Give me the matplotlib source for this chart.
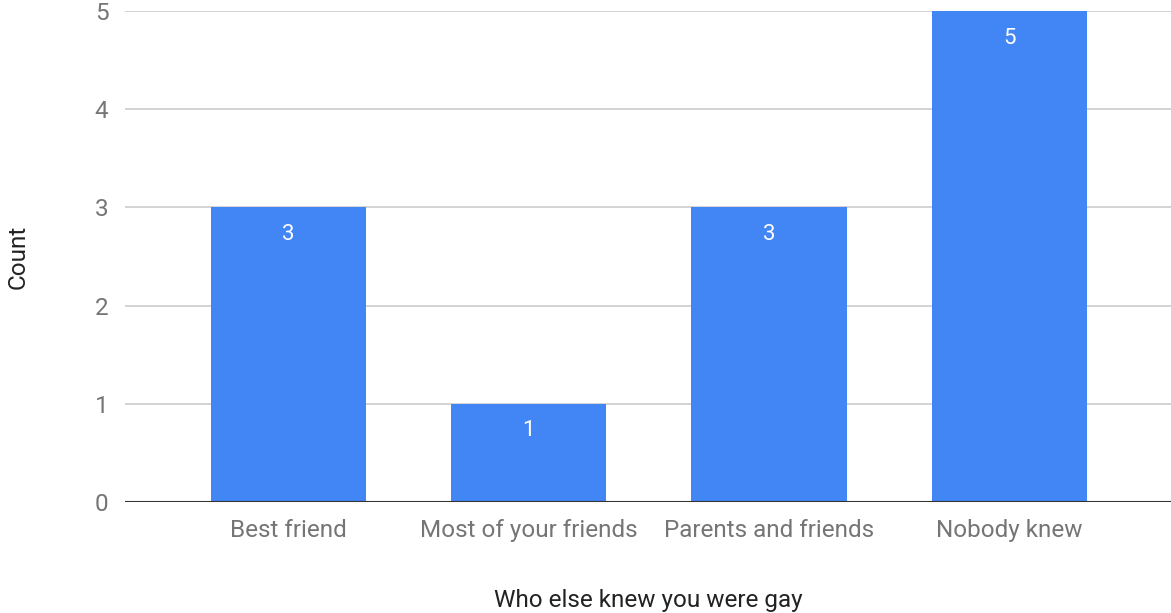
import matplotlib
matplotlib.use("Agg")
import matplotlib.pyplot as plt

categories = ["Best friend", "Most of your friends", "Parents and friends", "Nobody knew"]
counts = [3, 1, 3, 5]
yticks = [0, 1, 2, 3, 4, 5]

plt.rcParams['font.family'] = ['Roboto', 'DejaVu Sans']

fig = plt.figure(figsize=(11.71, 6.13), dpi=100)
ax = fig.add_axes([125/1171, 111/613, 1046/1171, 491/613])

x = list(range(len(categories)))
bars = ax.bar(x, counts, width=0.646, color="#4285F4", zorder=3)
for b, v in zip(bars, counts):
    ax.annotate(str(v), (b.get_x() + b.get_width()/2, v), xytext=(0, -19.5),
                textcoords="offset points", ha="center", va="center",
                color="white", fontsize=16, zorder=4)

ax.set_xlim(-0.681, 3.673)
ax.set_ylim(0, 5)
ax.set_yticks(yticks)
ax.set_xticks(x)
ax.set_xticklabels(categories)
ax.grid(axis="y", color="#cccccc", linewidth=1.2, zorder=0)
ax.axhline(0, color="#333333", linewidth=1.5, zorder=5)
for s in ax.spines.values():
    s.set_visible(False)
ax.tick_params(axis="both", length=0, labelsize=17.5, colors="#757575")
ax.tick_params(axis="y", pad=12)
ax.tick_params(axis="x", pad=12)
ax.set_ylabel("Count", fontsize=17.5, color="#222222", va="center")
ax.yaxis.set_label_coords(-0.1023, 0.5)
ax.set_xlabel("Who else knew you were gay", fontsize=17.5, color="#222222", va="center")
ax.xaxis.set_label_coords(0.5, -0.2)

fig.savefig("out.png", dpi=100)
